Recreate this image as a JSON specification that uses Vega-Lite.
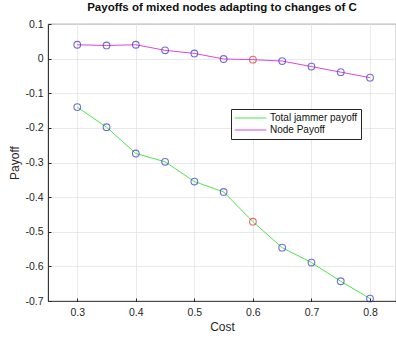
{
  "$schema": "https://vega.github.io/schema/vega-lite/v6.json",
  "width": 348,
  "height": 277,
  "autosize": "none",
  "padding": {"left": 48, "top": 24, "right": 0, "bottom": 37},
  "background": "white",
  "config": {
    "font": "Liberation Sans",
    "view": {"stroke": "#262626", "strokeWidth": 0.8},
    "axis": {
      "gridColor": "#e3e3e3",
      "gridWidth": 0.8,
      "domainColor": "#262626",
      "domainWidth": 0.8,
      "tickColor": "#262626",
      "tickSize": -3,
      "labelColor": "#262626",
      "labelFontSize": 10.5,
      "titleColor": "#262626",
      "titleFontSize": 12,
      "titleFontWeight": "normal"
    }
  },
  "title": {
    "text": "Payoffs of mixed nodes adapting to changes of C",
    "fontSize": 11.5,
    "fontWeight": "bold",
    "color": "#111111",
    "anchor": "middle",
    "offset": 6
  },
  "data": {
    "values": [
      {"cost": 0.3, "series": "Total jammer payoff", "payoff": -0.14},
      {"cost": 0.35, "series": "Total jammer payoff", "payoff": -0.198},
      {"cost": 0.4, "series": "Total jammer payoff", "payoff": -0.274},
      {"cost": 0.45, "series": "Total jammer payoff", "payoff": -0.298},
      {"cost": 0.5, "series": "Total jammer payoff", "payoff": -0.355},
      {"cost": 0.55, "series": "Total jammer payoff", "payoff": -0.385},
      {"cost": 0.6, "series": "Total jammer payoff", "payoff": -0.471},
      {"cost": 0.65, "series": "Total jammer payoff", "payoff": -0.546},
      {"cost": 0.7, "series": "Total jammer payoff", "payoff": -0.589},
      {"cost": 0.75, "series": "Total jammer payoff", "payoff": -0.643},
      {"cost": 0.8, "series": "Total jammer payoff", "payoff": -0.693},
      {"cost": 0.3, "series": "Node Payoff", "payoff": 0.04},
      {"cost": 0.35, "series": "Node Payoff", "payoff": 0.038},
      {"cost": 0.4, "series": "Node Payoff", "payoff": 0.04},
      {"cost": 0.45, "series": "Node Payoff", "payoff": 0.024},
      {"cost": 0.5, "series": "Node Payoff", "payoff": 0.015},
      {"cost": 0.55, "series": "Node Payoff", "payoff": -0.001},
      {"cost": 0.6, "series": "Node Payoff", "payoff": -0.003},
      {"cost": 0.65, "series": "Node Payoff", "payoff": -0.007},
      {"cost": 0.7, "series": "Node Payoff", "payoff": -0.023},
      {"cost": 0.75, "series": "Node Payoff", "payoff": -0.039},
      {"cost": 0.8, "series": "Node Payoff", "payoff": -0.055}
    ]
  },
  "encoding": {
    "x": {
      "field": "cost",
      "type": "quantitative",
      "title": "Cost",
      "scale": {"domain": [0.25, 0.8444], "nice": false, "zero": false},
      "axis": {
        "values": [0.3, 0.4, 0.5, 0.6, 0.7, 0.8],
        "format": ".1f",
        "labelPadding": 9,
        "titlePadding": 4
      }
    },
    "y": {
      "field": "payoff",
      "type": "quantitative",
      "title": "Payoff",
      "scale": {"domain": [-0.7, 0.1], "nice": false, "zero": false},
      "axis": {
        "values": [0.1, 0, -0.1, -0.2, -0.3, -0.4, -0.5, -0.6, -0.7],
        "labelExpr": "replace(format(datum.value, '.1~f'), '\u2212', '-')",
        "labelPadding": 8,
        "titlePadding": 3
      }
    }
  },
  "layer": [
    {
      "mark": {"type": "line", "strokeWidth": 1},
      "encoding": {
        "color": {
          "field": "series",
          "type": "nominal",
          "scale": {
            "domain": ["Total jammer payoff", "Node Payoff"],
            "range": ["#4fe34f", "#dc46dc"]
          },
          "legend": {
            "title": null,
            "orient": "none",
            "legendX": 183,
            "legendY": 85,
            "symbolType": "stroke",
            "symbolSize": 1000,
            "clipHeight": 12,
            "symbolStrokeWidth": 1.2,
            "labelFontSize": 10,
            "labelColor": "#111111",
            "labelOffset": 3,
            "rowPadding": 0,
            "padding": 3,
            "fillColor": "white",
            "strokeColor": "#262626",
            "labelLimit": 200
          }
        }
      }
    },
    {
      "mark": {"type": "point", "shape": "circle", "filled": false, "size": 45, "strokeWidth": 1.1},
      "encoding": {
        "stroke": {
          "condition": {"test": "datum.cost === 0.6", "value": "#e0302a"},
          "value": "#3535c8"
        }
      }
    }
  ]
}
